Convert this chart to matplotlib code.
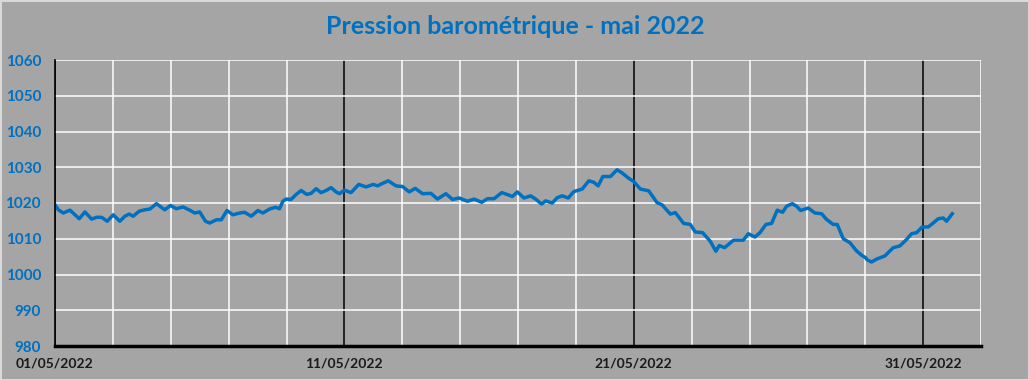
import matplotlib
matplotlib.use("Agg")
import matplotlib.pyplot as plt

# time in days since 01/05/2022 00:00, pressure in hPa
days = [0.000, 0.115, 0.287, 0.517, 0.690, 0.839, 1.034, 1.264, 1.437, 1.609,
        1.805, 2.011, 2.241, 2.414, 2.563, 2.701, 2.908, 3.103, 3.276, 3.506,
        3.793, 3.989, 4.195, 4.425, 4.655, 4.828, 5.000, 5.200, 5.345, 5.575,
        5.747, 5.943, 6.149, 6.379, 6.552, 6.782, 7.011, 7.184, 7.414, 7.621,
        7.760, 7.874, 7.989, 8.161, 8.333, 8.506, 8.701, 8.851, 9.023, 9.195,
        9.368, 9.540, 9.713, 9.828, 10.000, 10.230, 10.494, 10.747, 11.000, 11.149,
        11.322, 11.517, 11.782, 12.011, 12.241, 12.448, 12.701, 12.989, 13.218, 13.506,
        13.736, 13.966, 14.253, 14.483, 14.747, 14.943, 15.172, 15.437, 15.690, 15.805,
        15.977, 16.207, 16.437, 16.609, 16.816, 16.954, 17.184, 17.356, 17.529, 17.736,
        17.931, 18.218, 18.448, 18.621, 18.770, 18.931, 19.195, 19.425, 19.598, 19.828,
        20.000, 20.230, 20.517, 20.805, 20.977, 21.264, 21.437, 21.724, 21.954, 22.126,
        22.379, 22.644, 22.839, 22.954, 23.138, 23.448, 23.670, 23.785, 23.958, 24.188,
        24.361, 24.568, 24.764, 24.960, 25.144, 25.282, 25.478, 25.627, 25.766, 26.030,
        26.261, 26.491, 26.664, 26.894, 27.032, 27.240, 27.470, 27.700, 27.873, 28.011,
        28.069, 28.218, 28.391, 28.679, 28.967, 29.197, 29.428, 29.600, 29.773, 29.969,
        30.176, 30.349, 30.521, 30.694, 30.810, 31.006]
pression = [1019.5, 1018.1, 1017.2, 1018.0, 1016.7, 1015.6, 1017.5, 1015.5, 1016.0, 1016.0,
            1014.9, 1016.7, 1014.9, 1016.3, 1016.9, 1016.3, 1017.7, 1018.1, 1018.3, 1019.8,
            1018.1, 1019.3, 1018.4, 1018.9, 1018.0, 1017.2, 1017.5, 1014.9, 1014.4, 1015.3,
            1015.3, 1017.9, 1016.7, 1017.2, 1017.4, 1016.3, 1017.9, 1017.2, 1018.3, 1018.8,
            1018.4, 1020.5, 1021.1, 1021.0, 1022.4, 1023.5, 1022.4, 1022.7, 1024.0, 1022.9,
            1023.5, 1024.3, 1023.1, 1022.6, 1023.6, 1022.9, 1025.2, 1024.5, 1025.2, 1024.8,
            1025.5, 1026.2, 1024.8, 1024.6, 1023.1, 1024.1, 1022.6, 1022.7, 1021.1, 1022.6,
            1021.0, 1021.4, 1020.5, 1021.1, 1020.2, 1021.2, 1021.2, 1022.9, 1022.2, 1021.8,
            1023.1, 1021.4, 1022.0, 1021.1, 1019.7, 1020.6, 1020.0, 1021.5, 1022.0, 1021.4,
            1023.2, 1023.9, 1026.2, 1025.8, 1024.8, 1027.4, 1027.4, 1029.3, 1028.4, 1026.9,
            1026.0, 1023.9, 1023.4, 1020.1, 1019.5, 1016.9, 1017.3, 1014.3, 1014.0, 1011.9,
            1011.7, 1009.3, 1006.5, 1008.1, 1007.5, 1009.6, 1009.6, 1009.6, 1011.4, 1010.5,
            1011.7, 1014.0, 1014.3, 1018.0, 1017.4, 1019.1, 1019.8, 1019.1, 1017.9, 1018.6,
            1017.2, 1017.0, 1015.4, 1014.0, 1014.0, 1010.0, 1008.9, 1006.6, 1005.4, 1004.7,
            1004.1, 1003.5, 1004.3, 1005.2, 1007.5, 1008.0, 1009.8, 1011.4, 1011.7, 1013.3,
            1013.3, 1014.4, 1015.6, 1015.8, 1014.9, 1017.0]

y_ticks = [980, 990, 1000, 1010, 1020, 1030, 1040, 1050, 1060]
x_ticks = [0, 10, 20, 30]
x_labels = ["01/05/2022", "11/05/2022", "21/05/2022", "31/05/2022"]

bleu = "#0070C0"
fond = "#A5A5A5"

fig = plt.figure(figsize=(10.29, 3.8), dpi=100, facecolor=fond)
fig.patch.set_edgecolor("#D9D9D9")
fig.patch.set_linewidth(2)
ax = fig.add_axes([55 / 1029, 34 / 380, 926 / 1029, 286 / 380])
ax.set_facecolor(fond)

# grille : blanc tous les 2 jours, noir tous les 10 jours
for d in range(0, 33, 2):
    if d % 10 == 0:
        continue
    ax.axvline(d, color="white", lw=1.1, zorder=1)
for d in x_ticks:
    ax.axvline(d, color="black", lw=1.1, zorder=1)
for v in y_ticks:
    ax.axhline(v, color="white", lw=1.1, zorder=1)

ax.plot(days, pression, color=bleu, lw=2.5, zorder=3)

ax.set_xlim(0, 32)
ax.set_ylim(980, 1060)
ax.set_yticks(y_ticks)
ax.set_xticks(x_ticks)
ax.set_xticklabels(x_labels)
ax.tick_params(axis="y", length=0, pad=10, labelcolor=bleu, labelsize=11)
ax.tick_params(axis="x", length=0, pad=8, labelcolor="#1A1A1A", labelsize=10)
for t in ax.get_yticklabels() + ax.get_xticklabels():
    t.set_fontfamily("Lato")
    t.set_fontweight("bold")

for s in ["top", "right"]:
    ax.spines[s].set_visible(False)
ax.spines["left"].set_linewidth(1.2)
ax.spines["bottom"].set_linewidth(2.5)
ax.spines["left"].set_zorder(4)
ax.spines["bottom"].set_zorder(4)

fig.text(515 / 1029, 1 - 27 / 380, "Pression barométrique - mai 2022",
         ha="center", va="center", color=bleu, fontsize=18,
         fontweight="bold", family="Lato")

fig.savefig("out.png", dpi=100, facecolor=fig.get_facecolor(),
            edgecolor=fig.get_edgecolor())
